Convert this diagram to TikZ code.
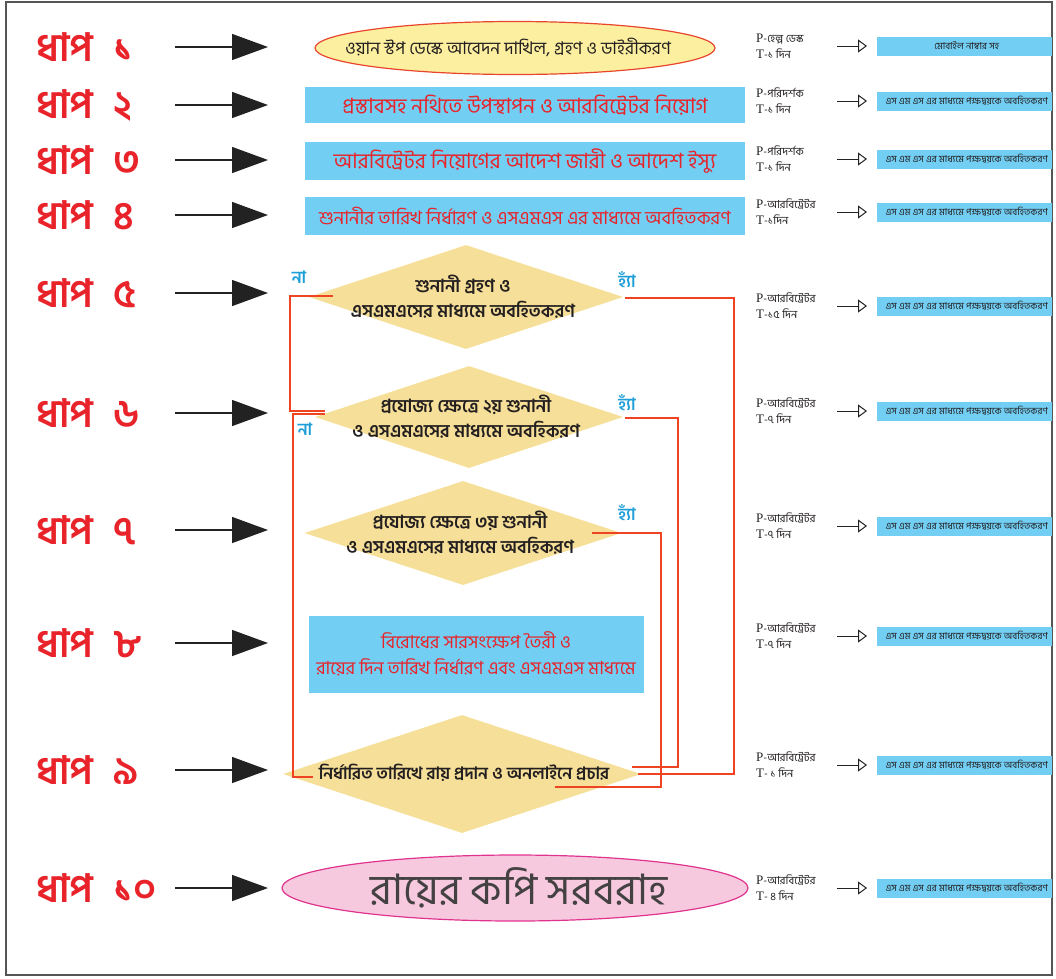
\documentclass[tikz,border=0pt]{standalone}
\usepackage{fontspec}
\setmainfont{Liberation Serif}
\newfontfamily\bn[Script=Bengali]{Hind Siliguri}
\usetikzlibrary{shapes.geometric,arrows.meta}
\definecolor{stepred}{HTML}{E8232A}
\definecolor{boxblue}{HTML}{72CEF3}
\definecolor{boxred}{HTML}{E8232A}
\definecolor{yelfill}{HTML}{FCEFA0}
\definecolor{yeldraw}{HTML}{E8452C}
\definecolor{diafill}{HTML}{F6DF98}
\definecolor{linered}{HTML}{EE4423}
\definecolor{noblue}{HTML}{1E9FD8}
\definecolor{pinkfill}{HTML}{F7C9DF}
\definecolor{pinkdraw}{HTML}{E0338E}
\definecolor{darktxt}{HTML}{231F20}
\definecolor{arrowgray}{HTML}{222222}
\definecolor{framegray}{HTML}{555555}
\newcommand\pfn{\bn\fontsize{11}{12}\selectfont}
\begin{document}
\begin{tikzpicture}[x=1pt,y=-1pt,
  steplbl/.style={anchor=west,text=stepred,inner sep=0,font=\bn\bfseries\fontsize{39}{40}\selectfont},
  bigarrow/.style={draw=arrowgray,line width=1.3pt,-{Triangle[length=36pt,width=26pt]}},
  bluebox/.style={fill=boxblue,minimum width=440,minimum height=36,inner sep=0,text=boxred,font=\bn\fontsize{21}{26}\selectfont},
  diabox/.style={diamond,fill=diafill,inner sep=0},
  diatxt/.style={align=center,text=darktxt,inner sep=0,font=\bn\bfseries\fontsize{18}{25}\selectfont},
  redline/.style={draw=linered,line width=1.4pt},
  yesno/.style={text=noblue,inner sep=0,font=\bn\bfseries\fontsize{17}{20}\selectfont},
  ptxt/.style={anchor=west,align=left,inner sep=0,text=darktxt,font=\fontsize{13}{16}\selectfont},
  smallarrow/.style={draw=arrowgray,line width=1pt,-{Triangle[open,length=9pt,width=13pt]}},
  rbox/.style={anchor=west,fill=boxblue,minimum width=175,minimum height=19,inner sep=0,text=darktxt,font=\bn\fontsize{9.5}{10}\selectfont}
]
\useasboundingbox (0,0) rectangle (1056,978);
\draw[framegray,line width=1.5pt] (6,2) rectangle (1052,975);

% step labels
\foreach \y/\t [count=\i] in {47/১,105/২,160/৩,215/৪,293/৫,413/৬,530/৭,643/৮,770/৯,888/১০}{
  \node[steplbl] (l\i) at (36,\y) {ধাপ\hspace{20pt}\t};
  \coordinate (as\i) at (175,\y);
  \coordinate (ae\i) at (268,\y);
  \draw[bigarrow] (as\i) -- (ae\i);
}

% step 1
\node[ellipse,draw=yeldraw,line width=1.2pt,fill=yelfill,minimum width=400,minimum height=53,inner sep=0] (s1) at (515,48) {};
\node[inner sep=0,font=\bn\fontsize{17.5}{22}\selectfont,text=darktxt] (t1) at (508,47) {ওয়ান স্টপ ডেস্কে আবেদন দাখিল, গ্রহণ  ও ডাইরীকরণ};
% steps 2-4
\node[bluebox] (s2) at (525,105) {প্রস্তাবসহ নথিতে উপস্থাপন ও আরবিট্রেটর নিয়োগ};
\node[bluebox,minimum height=38] (s3) at (525,161) {আরবিট্রেটর নিয়োগের আদেশ জারী ও আদেশ ইস্যু};
\node[bluebox,minimum height=38,font=\bn\fontsize{18.5}{22}\selectfont] (s4) at (525,216) {শুনানীর তারিখ নির্ধারণ ও এসএমএস এর মাধ্যমে অবহিতকরণ};

% diamonds
\node[diabox,minimum width=314,minimum height=104] (s5) at (466,297) {};
\node[diatxt] (t5) at (463,297) {শুনানী  গ্রহণ ও\\এসএমএসের মাধ্যমে অবহিতকরণ};
\node[diabox,minimum width=308,minimum height=102] (s6) at (469,417) {};
\node[diatxt] (t6) at (466,417) {প্রযোজ্য ক্ষেত্রে ২য় শুনানী\\ও এসএমএসের মাধ্যমে অবহিকরণ};
\node[diabox,minimum width=317,minimum height=104] (s7) at (463,533) {};
\node[diatxt] (t7) at (460,533) {প্রযোজ্য ক্ষেত্রে ৩য় শুনানী\\ও এসএমএসের মাধ্যমে অবহিকরণ};

% step 8
\node[bluebox,minimum width=335,minimum height=77,align=center,font=\bn\fontsize{18}{26}\selectfont] (s8) at (476,654)
  {বিরোধের সারসংক্ষেপ তৈরী ও\\রায়ের দিন তারিখ নির্ধারণ এবং এসএমএস মাধ্যমে};

% step 9
\node[diabox,minimum width=358,minimum height=118] (s9) at (462,774) {};
\node[diatxt,font=\bn\bfseries\fontsize{17}{24}\selectfont] (t9) at (464,773) {নির্ধারিত তারিখে রায় প্রদান ও অনলাইনে প্রচার};

% step 10
\node[ellipse,draw=pinkdraw,line width=1.2pt,fill=pinkfill,minimum width=466,minimum height=66,inner sep=0] (s10) at (515,888) {};
\node[inner sep=0,font=\bn\fontsize{42}{46}\selectfont,text=darktxt!85] (t10) at (519,888) {রায়ের কপি সরবরাহ};

% red connectors
\coordinate (n5a) at (333,296); \coordinate (n5b) at (325,411);
\coordinate (n6a) at (325,414); \coordinate (n6b) at (313,777);
\coordinate (y5a) at (625,298); \coordinate (y5b) at (638,774);
\coordinate (y6a) at (625,418); \coordinate (y6b) at (632,767);
\coordinate (y7a) at (592,533); \coordinate (y7b) at (555,787);
\draw[redline] (n5a) -- (290,296) -- (290,411) -- (n5b);
\draw[redline] (n6a) -- (293,414) -- (293,777) -- (n6b);
\draw[redline] (y5a) -- (734,298) -- (734,774) -- (y5b);
\draw[redline] (y6a) -- (678,418) -- (678,767) -- (y6b);
\draw[redline] (y7a) -- (661,533) -- (661,787) -- (y7b);

\node[yesno] (no5) at (299,277) {না};
\node[yesno] (no6) at (305,429) {না};
\node[yesno] (ys5) at (627,280) {হ্যাঁ};
\node[yesno] (ys6) at (627,403) {হ্যাঁ};
\node[yesno] (ys7) at (627,513) {হ্যাঁ};

% right column
\foreach \y/\p/\t/\r [count=\i] in {
  46/হেল্প ডেস্ক/-১ দিন/মোবাইল নাম্বার সহ,
  101/পরিদর্শক/-১ দিন/এস এম এস এর মাধ্যমে পক্ষদ্বয়কে অবহিতকরণ,
  159/পরিদর্শক/-১ দিন/এস এম এস এর মাধ্যমে পক্ষদ্বয়কে অবহিতকরণ,
  212/আরবিট্রেটর/-১দিন/এস এম এস এর মাধ্যমে পক্ষদ্বয়কে অবহিতকরণ,
  306/আরবিট্রেটর/-১৫ দিন/এস এম এস এর মাধ্যমে পক্ষদ্বয়কে অবহিতকরণ,
  411/আরবিট্রেটর/-৭ দিন/এস এম এস এর মাধ্যমে পক্ষদ্বয়কে অবহিতকরণ,
  526/আরবিট্রেটর/-৭ দিন/এস এম এস এর মাধ্যমে পক্ষদ্বয়কে অবহিতকরণ,
  636/আরবিট্রেটর/-৭ দিন/এস এম এস এর মাধ্যমে পক্ষদ্বয়কে অবহিতকরণ,
  765/আরবিট্রেটর/- ১ দিন/এস এম এস এর মাধ্যমে পক্ষদ্বয়কে অবহিতকরণ,
  888/আরবিট্রেটর/- ৪ দিন/এস এম এস এর মাধ্যমে পক্ষদ্বয়কে অবহিতকরণ}{
  \node[ptxt] (p\i) at (756,\y) {P{\pfn-\p}\\T{\pfn\t}};
  \coordinate (ra\i) at (837,\y);
  \coordinate (rb\i) at (867,\y);
  \draw[smallarrow] (ra\i) -- (rb\i);
  \node[rbox] (r\i) at (877,\y) {\hspace{4pt}\r\hfill};
}
\end{tikzpicture}
\end{document}
